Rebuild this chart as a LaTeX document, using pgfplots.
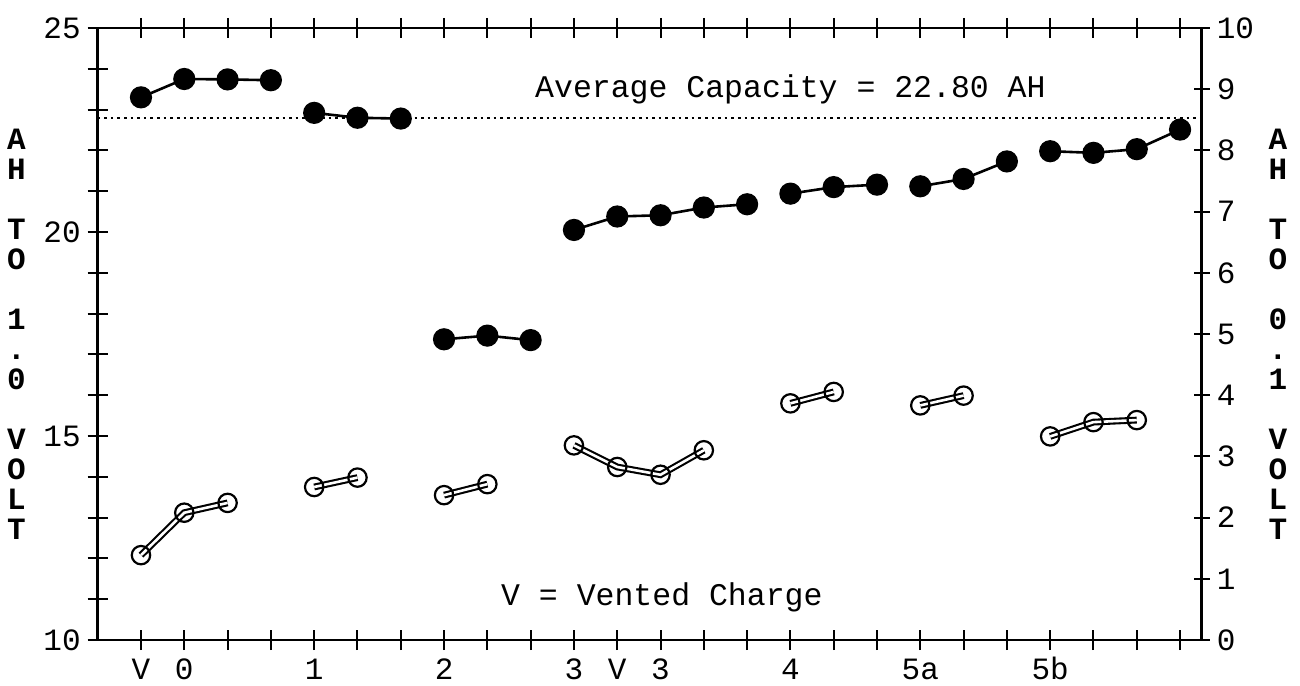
\documentclass[border=0pt]{standalone}
\usepackage{pgfplots}
\pgfplotsset{compat=1.18}
\usepackage{pgfplotstable}
\usepackage{fontspec}
\setmainfont{Liberation Mono}

\pgfplotstableread{
x y
1 23.30
2 23.75
3 23.74
4 23.72
4.5 nan
5 22.92
6 22.80
7 22.78
7.5 nan
8 17.37
9 17.46
10 17.35
10.5 nan
11 20.05
12 20.38
13 20.41
14 20.60
15 20.68
15.5 nan
16 20.94
17 21.10
18 21.16
18.5 nan
19 21.12
20 21.30
21 21.73
21.5 nan
22 21.98
23 21.94
24 22.03
25 22.51
}\filledtab

\pgfplotstableread{
x y
1 12.08
2 13.12
3 13.36
4 nan
5 13.75
6 13.98
7 nan
8 13.55
9 13.82
10 nan
11 14.77
12 14.24
13 14.05
14 14.65
15 nan
16 15.80
17 16.08
18 nan
19 15.75
20 15.99
21 nan
22 14.99
23 15.34
24 15.39
}\opentab

\begin{document}
\begin{tikzpicture}
\path[use as bounding box] (-48.85pt,-22.5pt) rectangle (601.15pt,320pt);
\begin{axis}[
  at={(0,0)}, anchor=south west,
  scale only axis, width=552pt, height=306pt,
  xmin=0, xmax=25.5, ymin=10, ymax=25,
  axis line style={line width=1.3pt},
  tick style={line width=1pt, black},
  tick align=center,
  major tick length=10pt,
  xtick={1,...,25},
  xticklabels={V,0,,,1,,,2,,,3,V,3,,,4,,,5a,,,5b,,,},
  xtick pos=both, xticklabel pos=lower,
  xticklabel style={text height=11pt, text depth=0pt},
  ytick={10,...,25},
  yticklabels={10,,,,,15,,,,,20,,,,,25},
  ytick pos=left,
  unbounded coords=jump,
  clip=false,
  tick label style={font=\fontsize{15.5}{16}\selectfont},
  /pgf/number format/assume math mode=true,
]
\addplot[black, line width=1.1pt, dash pattern=on 1.3pt off 2pt] coordinates {(0,22.8) (25.5,22.8)};
\addplot[black, line width=1.3pt, mark=*, mark size=4.9pt] table {\filledtab};
\addplot[black, line width=3.4pt] table {\opentab};
\addplot[white, line width=1.3pt] table {\opentab};
\addplot[only marks, mark=o, mark size=4.6pt, mark options={line width=1.1pt, black}] table {\opentab};
\node[font=\fontsize{15.75}{16}\selectfont] at (axis cs:16,23.5) {Average Capacity = 22.80 AH};
\node[font=\fontsize{15.75}{16}\selectfont] at (axis cs:13.03,11.05) {V = Vented Charge};
\end{axis}
\begin{axis}[
  at={(0,0)}, anchor=south west,
  scale only axis, width=552pt, height=306pt,
  xmin=0, xmax=25.5, ymin=0, ymax=10,
  axis x line=none, axis y line*=right,
  axis line style={-, line width=1.3pt},
  tick style={line width=1pt, black},
  tick align=center,
  major tick length=8pt,
  ytick={0,...,10},
  yticklabels={0,1,2,3,4,5,6,7,8,9,10},
  tick label style={font=\fontsize{15.5}{16}\selectfont},
  /pgf/number format/assume math mode=true,
]
\addplot[draw=none] coordinates {(0,0)};
\end{axis}
\node[font=\fontsize{15.5}{15}\selectfont\bfseries, align=center] at (-40.6pt,153pt) {A\\H\\\mbox{}\\T\\O\\\mbox{}\\1\\.\\0\\\mbox{}\\V\\O\\L\\T};
\node[font=\fontsize{15.5}{15}\selectfont\bfseries, align=center] at (590.15pt,153pt) {A\\H\\\mbox{}\\T\\O\\\mbox{}\\0\\.\\1\\\mbox{}\\V\\O\\L\\T};
\end{tikzpicture}
\end{document}
